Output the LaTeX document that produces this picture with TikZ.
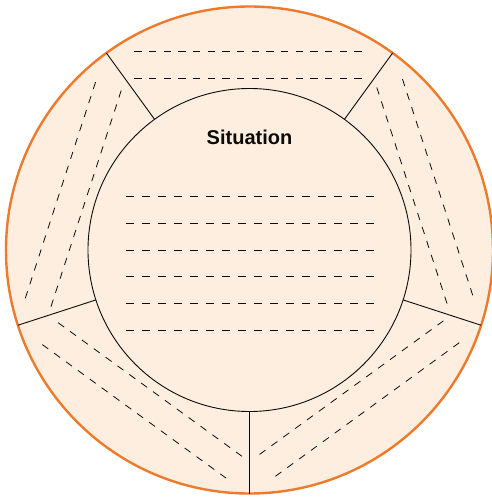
\documentclass[tikz,border=0pt]{standalone}
\usepackage{fontspec}
\setmainfont{Liberation Sans}
\usetikzlibrary{positioning,calc}
\definecolor{Ring}{HTML}{EE7A2C}
\definecolor{Peach}{HTML}{FDEEDF}
\definecolor{Ink}{HTML}{0B0B0B}

\begin{document}
\begin{tikzpicture}[x=1pt, y=1pt,
    ringline/.style={draw=Ink, line width=0.9pt},
    noteline/.style={draw=Ink, line width=0.8pt, dash pattern=on 7.33pt off 7.33pt},
    textline/.style={draw=Ink, line width=0.8pt, dash pattern=on 8pt off 8pt}]
      \useasboundingbox (-249.5,-248) rectangle (242.5,250);
      \coordinate (C) at (0,0);
      % outer ring and inner circle
      \draw[Ring, line width=2.4pt, fill=Peach] (C) circle (243.5);
      \draw[ringline, fill=Peach] (C) circle (161.5);
      % sector borders
      \foreach \a in {54,126,198,270,342}
        \draw[ringline] (\a:161.5) -- (\a:243.5);
      % two note lines in each sector
      \foreach \r in {0,72,144,216,288} {
        \begin{scope}[rotate=\r]
          \draw[noteline] (-115.2,198.3) -- (115.2,198.3);
          \draw[noteline] (-115.2,171.3) -- (115.2,171.3);
        \end{scope}
      }
      % title and text lines of the centre
      \node[font=\bfseries\fontsize{20}{24}\selectfont, text=Ink] (title) at (0,113) {Situation};
      \foreach \y in {53.3,26.7,0,-26.7,-53.3,-80}
        \draw[textline] (-123.5,\y) -- (127,\y);
    \end{tikzpicture}
\end{document}
